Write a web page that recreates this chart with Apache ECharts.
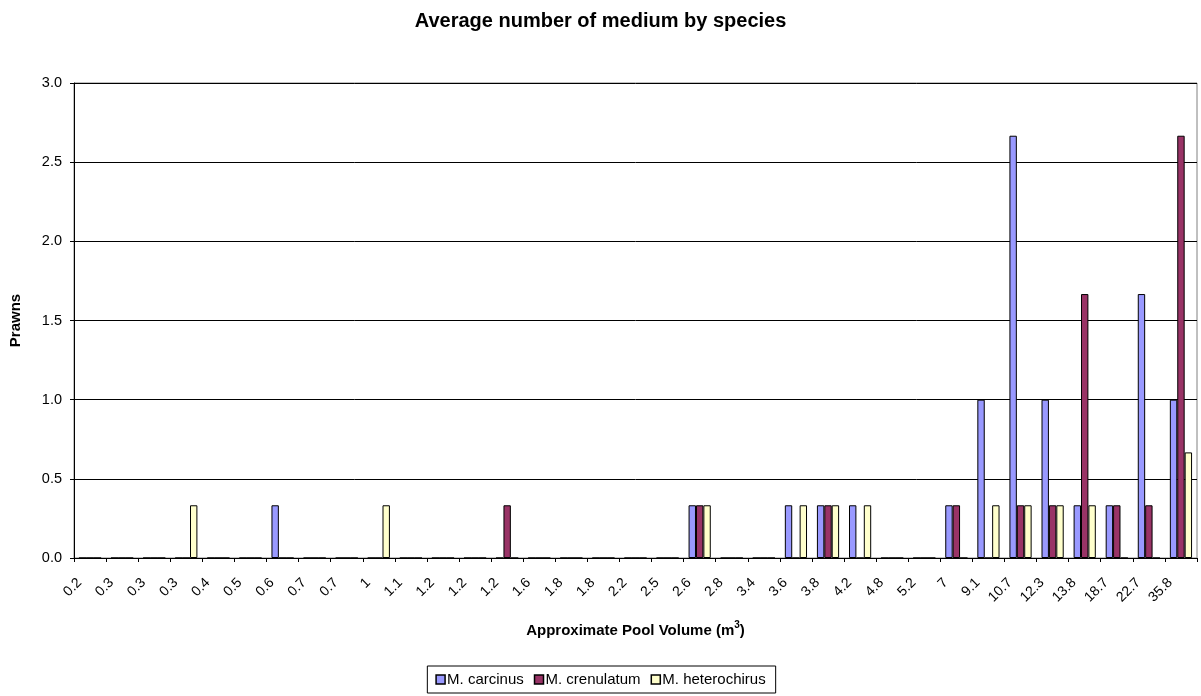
<!DOCTYPE html>
<html>
<head>
<meta charset="utf-8">
<script src="https://cdn.jsdelivr.net/npm/echarts@6/dist/echarts.min.js"></script>
<style>
html,body{margin:0;padding:0;background:#fff;}
#chart{width:1201px;height:696px;}
</style>
</head>
<body>
<div id="chart"></div>
<script>
const categories = ['0.2','0.3','0.3','0.3','0.4','0.5','0.6','0.7','0.7','1','1.1','1.2','1.2','1.2','1.6','1.8','1.8','2.2','2.5','2.6','2.8','3.4','3.6','3.8','4.2','4.8','5.2','7','9.1','10.7','12.3','13.8','18.7','22.7','35.8'];
const carcinus =     [0,0,0,0,0,0,0.333,0,0,0,0,0,0,0,0,0,0,0,0,0.333,0,0,0.333,0.333,0.333,0,0,0.333,1,2.667,1,0.333,0.333,1.667,1];
const crenulatum =   [0,0,0,0,0,0,0,0,0,0,0,0,0,0.333,0,0,0,0,0,0.333,0,0,0,0.333,0,0,0,0.333,0,0.333,0.333,1.667,0.333,0.333,2.667];
const heterochirus = [0,0,0,0.333,0,0,0,0,0,0.333,0,0,0,0,0,0,0,0,0,0.333,0,0,0.333,0.333,0.333,0,0,0,0.333,0.333,0.333,0.333,0,0,0.667];
const yTicks = ['0.0','0.5','1.0','1.5','2.0','2.5','3.0'];

const chart = echarts.init(document.getElementById('chart'));
const font = 'Liberation Sans, Arial, sans-serif';
function bar(name, data, color) {
  return {
    name, type: 'bar', data,
    barWidth: 7.4, barGap: '0%',
    itemStyle: { color, borderColor: '#000', borderWidth: 1 },
    emphasis: { disabled: true }
  };
}
chart.setOption({
  animation: false,
  textStyle: { fontFamily: font, color: '#000' },
  title: {
    text: 'Average number of medium by species',
    left: 'center', top: 6,
    textStyle: { fontFamily: font, fontSize: 20, fontWeight: 'bold', color: '#000' }
  },
  grid: { left: 69, right: 4, top: 83, bottom: 138, show: true, borderColor: '#808080', borderWidth: 1 },
  legend: {
    bottom: 3, left: 'center',
    data: ['M. carcinus', 'M. crenulatum', 'M. heterochirus'],
    itemWidth: 9, itemHeight: 9, itemGap: 10,
    icon: 'rect',
    borderColor: '#000', borderWidth: 1, padding: [6, 10, 6, 8],
    textStyle: { fontFamily: font, fontSize: 15, color: '#000', padding: [0, 0, 0, -3] },
    itemStyle: { borderColor: '#000', borderWidth: 1.5 }
  },
  xAxis: {
    type: 'category', data: categories,
    name: '{a|Approximate Pool Volume (m}{s|3}{a|)}',
    nameLocation: 'middle', nameGap: 62,
    nameTextStyle: {
      rich: {
        a: { fontFamily: font, fontSize: 15, fontWeight: 'bold', color: '#000', verticalAlign: 'bottom', lineHeight: 18 },
        s: { fontFamily: font, fontSize: 10, fontWeight: 'bold', color: '#000', verticalAlign: 'top', lineHeight: 18, padding: [0, 0, 7, 0] }
      }
    },
    axisLine: { lineStyle: { color: '#000', width: 1 } },
    axisTick: { show: true, length: 4, lineStyle: { color: '#000' } },
    axisLabel: { rotate: 45, fontFamily: font, fontSize: 14, color: '#000', interval: 0, margin: 12, padding: [0, 15, 0, 0] },
    splitLine: { show: false }
  },
  yAxis: {
    type: 'value', min: 0, max: 3, interval: 0.5,
    name: 'Prawns', nameLocation: 'middle', nameGap: 51,
    nameTextStyle: { fontFamily: font, fontSize: 15, fontWeight: 'bold', color: '#000' },
    axisLine: { show: true, lineStyle: { color: '#000', width: 1 } },
    axisTick: { show: true, length: 4, lineStyle: { color: '#000' } },
    axisLabel: { fontFamily: font, fontSize: 14.5, color: '#000', margin: 12,
      formatter: v => yTicks[Math.round(v / 0.5)] },
    splitLine: { show: true, lineStyle: { color: '#000', width: 1 } }
  },
  series: [
    bar('M. carcinus', carcinus, '#9999FF'),
    bar('M. crenulatum', crenulatum, '#993366'),
    bar('M. heterochirus', heterochirus, '#FFFFCC')
  ]
});
</script>
</body>
</html>
